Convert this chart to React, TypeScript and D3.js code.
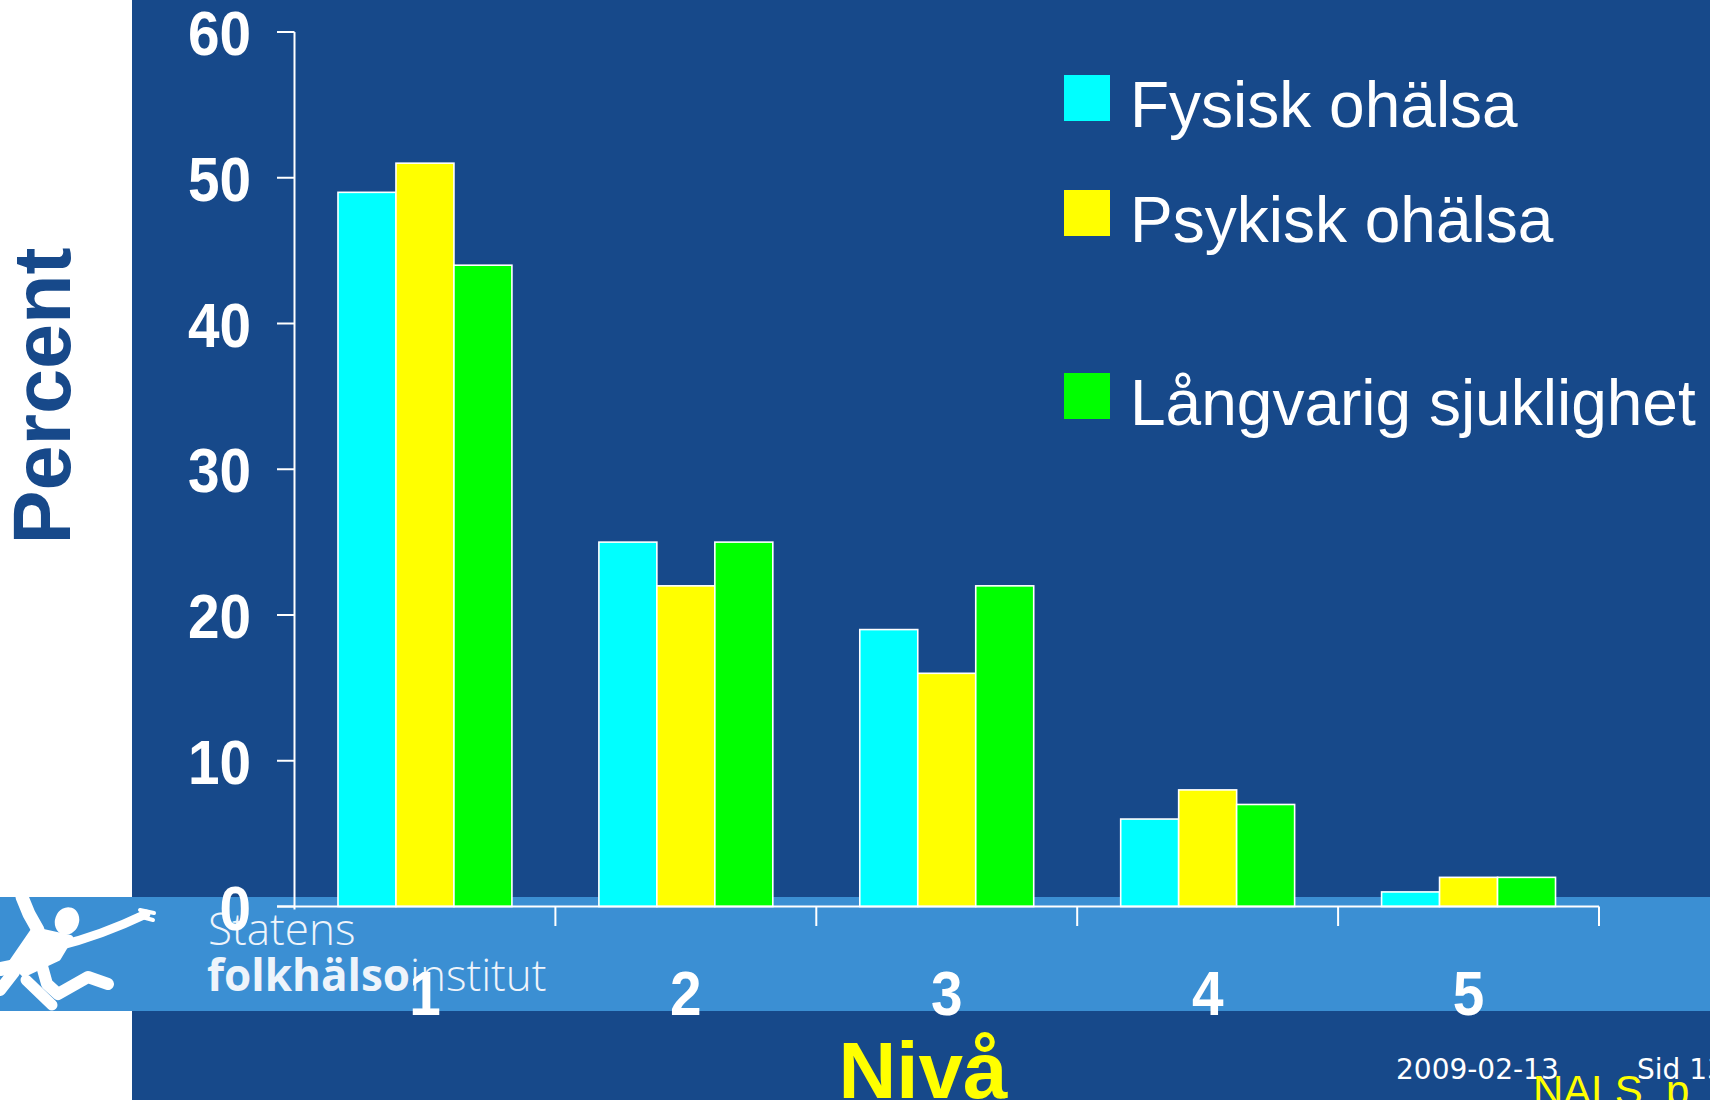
import React from 'react';
import * as d3 from 'd3';

const categories = ['1', '2', '3', '4', '5'];
const seriesNames = ['Fysisk ohälsa', 'Psykisk ohälsa', 'Långvarig sjuklighet'];
const fysisk = [49, 25, 19, 6, 1];
const psykisk = [51, 22, 16, 8, 2];
const langvarig = [44, 25, 22, 7, 2];
const seriesValues = [fysisk, psykisk, langvarig];
const seriesColors = ['#00ffff', '#ffff00', '#00ff00'];
const yTicks = [0, 10, 20, 30, 40, 50, 60];

const W = 1710;
const H = 1100;
const DARK = '#17498a';
const LIGHT = '#3b8fd3';
const TICK_SX = 0.9;

export default function App() {
  const x = d3.scaleBand<string>().domain(categories).range([294.5, 1599]).padding(0);
  const bw = x.bandwidth();
  const groupPad = bw / 6;
  const xs = d3.scaleBand<string>().domain(seriesNames).range([groupPad, bw - groupPad]);
  const y = d3.scaleLinear().domain([0, 60]).range([906.5, 32]);
  const y0 = y(0);

  const legendY = [75, 190, 373];

  const bandEdges = categories.map((c) => (x(c) as number) + bw);

  return (
    <svg width={W} height={H} style={{ position: 'absolute', left: 0, top: 0 }} xmlns="http://www.w3.org/2000/svg">
      <rect x={0} y={0} width={W} height={H} fill="#ffffff" />
      <rect x={132} y={0} width={W - 132} height={H} fill={DARK} />
      <rect x={0} y={897} width={W} height={114} fill={LIGHT} />

      {/* logo figure */}
      <g fill="#ffffff" stroke="#ffffff" strokeLinecap="round" strokeLinejoin="round">
        <path d="M22,897 L29,914 L38,930" fill="none" strokeWidth={13} />
        <ellipse cx={67} cy={921} rx={12} ry={14} transform="rotate(20 67 921)" stroke="none" />
        <path d="M34,930 L70,938 L58,958 L24,974 L12,962 Z" strokeWidth={6} />
        <path d="M16,966 L0,969" fill="none" strokeWidth={14} />
        <path d="M58,946 Q100,936 146,914" fill="none" strokeWidth={9} />
        <path d="M140,910 L154,913 M142,917 L153,920" fill="none" strokeWidth={4} />
        <path d="M42,966 L47,984 L58,994 L88,977 L108,984" fill="none" strokeWidth={12} />
        <path d="M14,972 L0,990" fill="none" strokeWidth={12} />
        <path d="M26,980 L52,1005" fill="none" strokeWidth={11} />
      </g>

      {/* logo text */}
      <text x={208} y={945} fontFamily="'Open Sans', 'Noto Sans', sans-serif" fontSize={44} fill="#eef4fb" fontWeight={300}>
        Statens
      </text>
      <text x={207} y={991} fontFamily="'Open Sans', 'Noto Sans', sans-serif" fontSize={44} fill="#eef4fb">
        <tspan fontWeight={700}>folkhälso</tspan>
        <tspan fontWeight={300}>institut</tspan>
      </text>

      {/* bars */}
      {categories.map((c, i) => (
        <g key={c} transform={`translate(${x(c)},0)`}>
          {seriesNames.map((s, j) => {
            const v = seriesValues[j][i];
            return (
              <rect
                key={s}
                x={xs(s)}
                y={y(v)}
                width={xs.bandwidth()}
                height={y0 - y(v)}
                fill={seriesColors[j]}
                stroke="#ffffff"
                strokeWidth={1.6}
              />
            );
          })}
        </g>
      ))}

      {/* y axis */}
      <line x1={294.5} x2={294.5} y1={y(60)} y2={y0 + 3} stroke="#ffffff" strokeWidth={2} />
      {yTicks.map((t) => (
        <g key={t}>
          <line x1={277} x2={294.5} y1={y(t)} y2={y(t)} stroke="#ffffff" strokeWidth={2} />
          <text
            transform={`translate(251,${y(t) + 23}) scale(${TICK_SX},1)`}
            textAnchor="end"
            fontFamily="'Liberation Sans', Arial, sans-serif"
            fontWeight={700}
            fontSize={63}
            fill="#ffffff"
          >
            {t}
          </text>
        </g>
      ))}

      {/* x axis */}
      <line x1={277} x2={1599} y1={y0} y2={y0} stroke="#ffffff" strokeWidth={2} />
      {bandEdges.map((e, i) => (
        <line key={i} x1={e} x2={e} y1={y0} y2={926} stroke="#ffffff" strokeWidth={2} />
      ))}
      {categories.map((c) => (
        <text
          key={c}
          transform={`translate(${(x(c) as number) + bw / 2},1015) scale(${TICK_SX},1)`}
          textAnchor="middle"
          fontFamily="'Liberation Sans', Arial, sans-serif"
          fontWeight={700}
          fontSize={63}
          fill="#ffffff"
        >
          {c}
        </text>
      ))}

      {/* axis titles */}
      <text
        transform="translate(70,396) rotate(-90)"
        textAnchor="middle"
        fontFamily="'Liberation Sans', Arial, sans-serif"
        fontWeight={700}
        fontSize={81}
        fill={DARK}
      >
        Percent
      </text>
      <text
        x={923}
        y={1098}
        textAnchor="middle"
        fontFamily="'Liberation Sans', Arial, sans-serif"
        fontWeight={700}
        fontSize={80}
        fill="#ffff00"
      >
        Nivå
      </text>

      {/* legend */}
      {seriesNames.map((s, j) => (
        <g key={s}>
          <rect x={1064} y={legendY[j]} width={46} height={46} fill={seriesColors[j]} />
          <text
            x={1130}
            y={legendY[j] + 52}
            fontFamily="'Liberation Sans', Arial, sans-serif"
            fontSize={64}
            fill="#ffffff"
          >
            {s}
          </text>
        </g>
      ))}

      {/* footer */}
      <text x={1396} y={1079} fontFamily="'DejaVu Sans', Verdana, sans-serif" fontSize={28} fill="#ffffff">
        2009-02-13
      </text>
      <text x={1637} y={1079} fontFamily="'DejaVu Sans', Verdana, sans-serif" fontSize={28} fill="#ffffff">
        Sid 13
      </text>
      <text x={1533} y={1105} fontFamily="'Liberation Sans', Arial, sans-serif" fontSize={42} fill="#ffff00">
        NALS_p
      </text>
    </svg>
  );
}
